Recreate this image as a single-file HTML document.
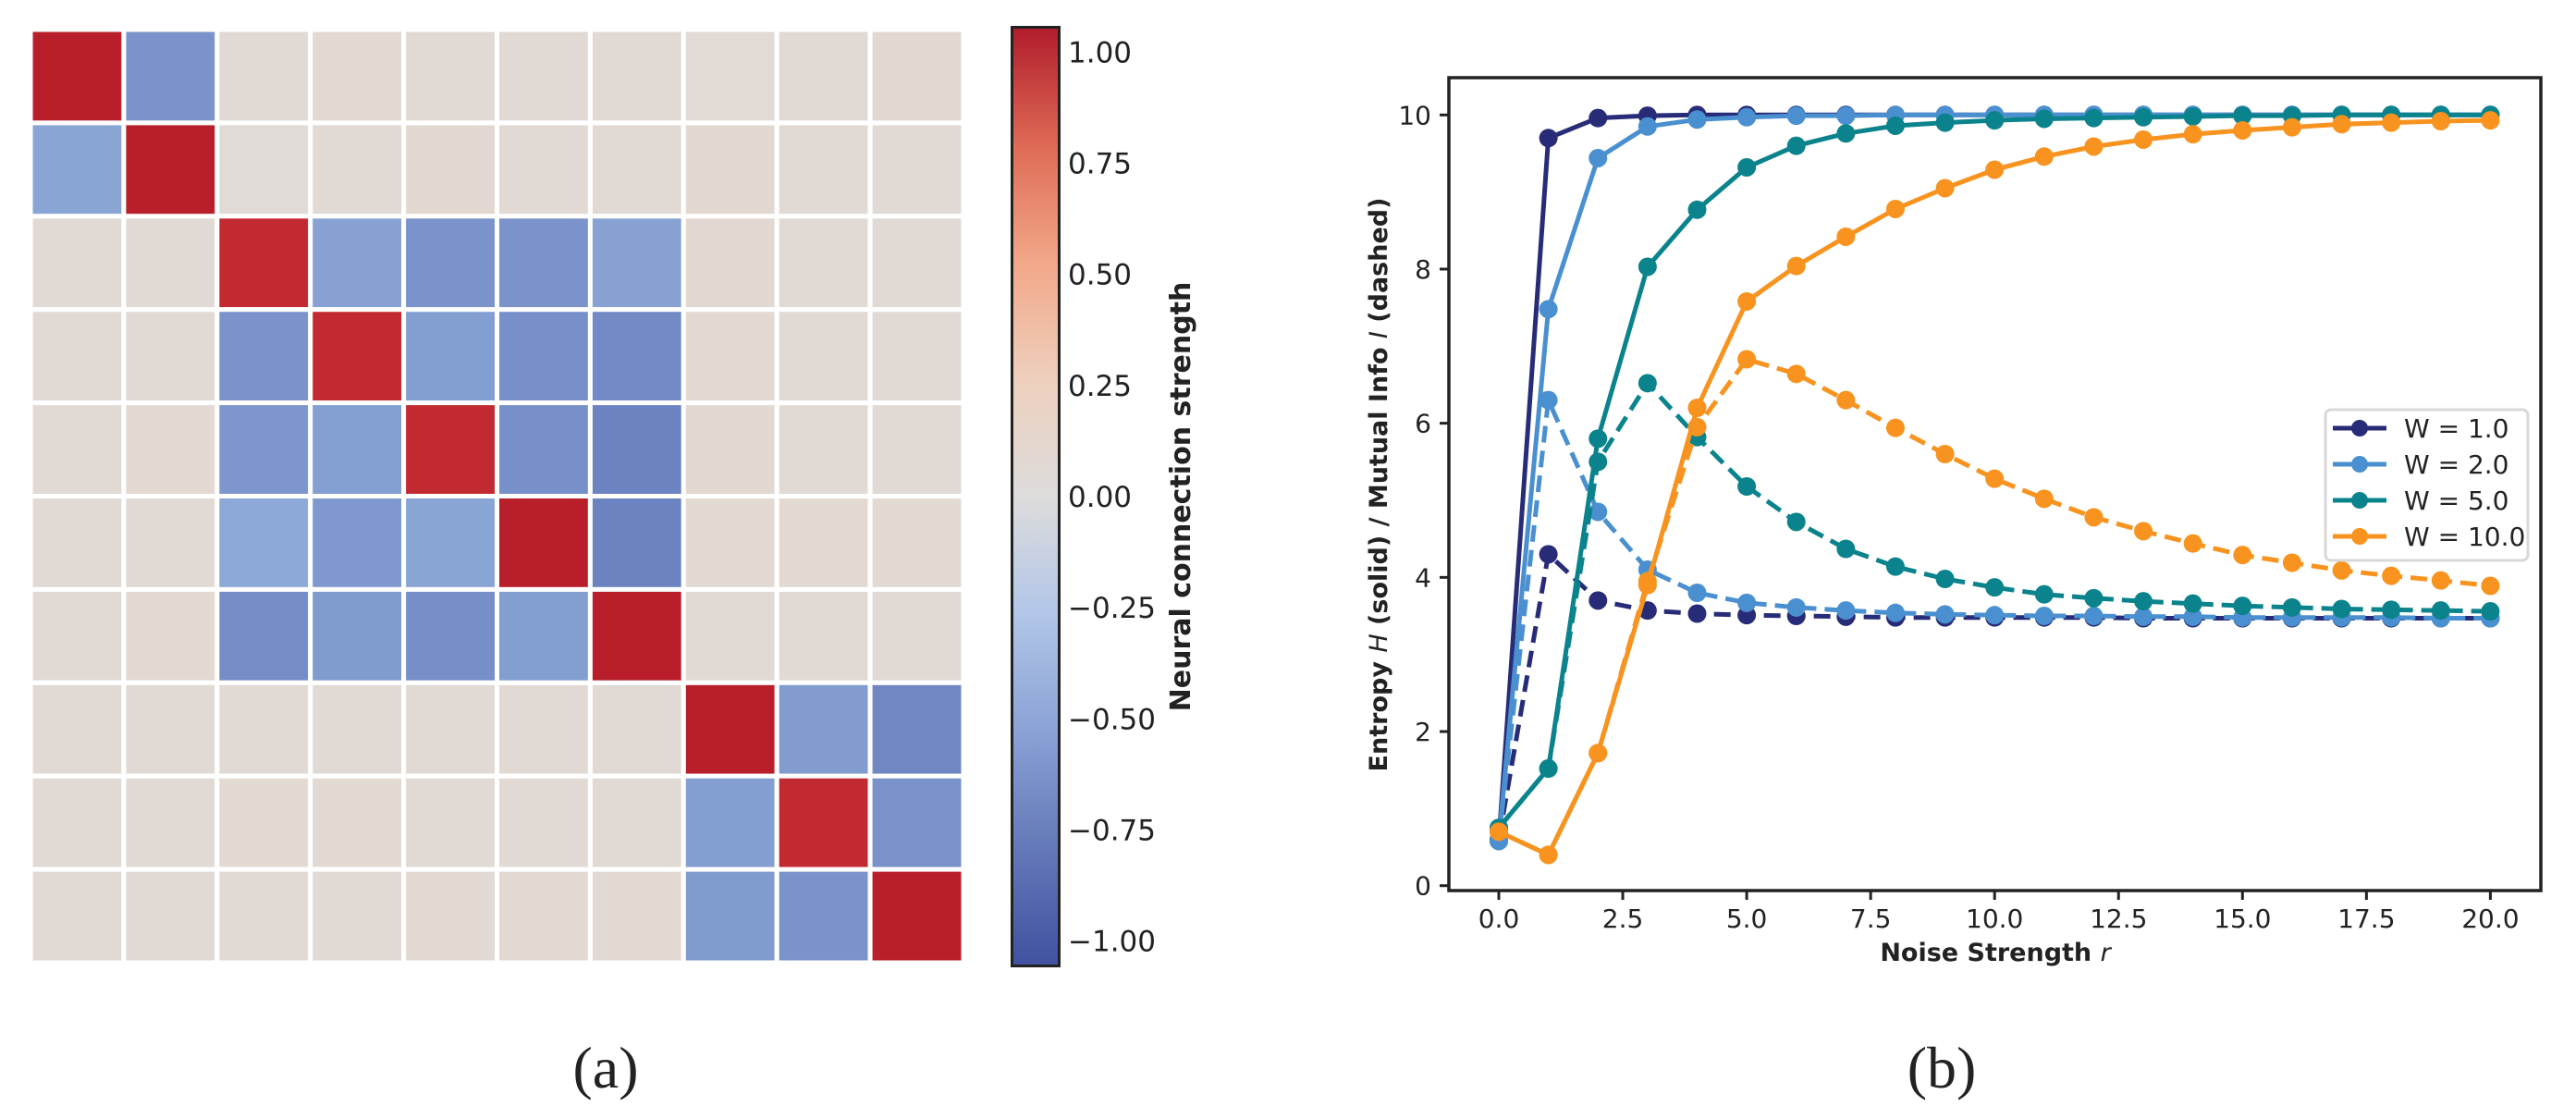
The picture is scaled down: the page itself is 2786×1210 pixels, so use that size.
<!DOCTYPE html>
<html><head><meta charset="utf-8"><style>
html,body{margin:0;padding:0;background:#fff;}
svg{display:block;}
text{font-family:"DejaVu Sans","Liberation Sans",sans-serif;fill:#222;}
</style></head><body>
<svg id="fig" width="2786" height="1210" viewBox="0 0 2786 1210" xmlns="http://www.w3.org/2000/svg">
<defs>
<linearGradient id="cbgrad" x1="0" y1="1" x2="0" y2="0">
<stop offset="0" stop-color="#4152a0"/><stop offset="0.125" stop-color="#6378b8"/><stop offset="0.25" stop-color="#8aa2d6"/><stop offset="0.375" stop-color="#b2c6e8"/><stop offset="0.5" stop-color="#dddcdc"/><stop offset="0.625" stop-color="#eecfbd"/><stop offset="0.75" stop-color="#f2a788"/><stop offset="0.875" stop-color="#de6a55"/><stop offset="1" stop-color="#b01c2c"/>
</linearGradient>
</defs>
<g id="heat"></g>
<g id="cb"></g>
<g id="plot"></g>
<text x="655" y="1176" text-anchor="middle" font-size="64" style="font-family:'Liberation Serif',serif">(a)</text>
<text x="2100" y="1176" text-anchor="middle" font-size="64" style="font-family:'Liberation Serif',serif">(b)</text>
</svg>
<script>
const matrix = [
[1.0,-0.62,0.03,0.05,0.03,0.03,0.03,0.02,0.03,0.06],
[-0.5,1.0,0.01,0.03,0.06,0.03,0.03,0.06,0.03,0.03],
[0.03,0.03,0.95,-0.52,-0.62,-0.62,-0.52,0.06,0.03,0.03],
[0.03,0.03,-0.62,0.95,-0.55,-0.64,-0.68,0.05,0.03,0.03],
[0.03,0.05,-0.6,-0.54,0.95,-0.64,-0.73,0.06,0.03,0.03],
[0.03,0.03,-0.48,-0.58,-0.5,1.0,-0.73,0.05,0.05,0.05],
[0.03,0.05,-0.66,-0.57,-0.65,-0.55,1.0,0.03,0.03,0.03],
[0.03,0.03,0.03,0.03,0.03,0.03,0.03,1.0,-0.56,-0.7],
[0.03,0.03,0.05,0.05,0.03,0.03,0.03,-0.55,0.95,-0.63],
[0.03,0.03,0.03,0.03,0.05,0.05,0.05,-0.57,-0.62,1.0]
];
const cbTicks = [1.0,0.75,0.5,0.25,0.0,-0.25,-0.5,-0.75,-1.0];
const rValues = [0,1,2,3,4,5,6,7,8,9,10,11,12,13,14,15,16,17,18,19,20];
const H_w1 = [0.58,9.7,9.96,9.99,10,10,10,10,10,10,10,10,10,10,10,10,10,10,10,10,10];
const H_w2 = [0.58,7.48,9.44,9.85,9.94,9.97,9.99,9.99,10,10,10,10,10,10,10,10,10,10,10,10,10];
const H_w5 = [0.75,1.52,5.8,8.03,8.77,9.32,9.6,9.76,9.86,9.9,9.93,9.95,9.96,9.97,9.98,9.99,9.99,10,10,10,10];
const H_w10 = [0.7,0.4,1.72,3.9,6.2,7.58,8.04,8.42,8.78,9.05,9.29,9.46,9.59,9.68,9.75,9.8,9.84,9.88,9.9,9.92,9.93];
const I_w1 = [0.6,4.3,3.7,3.57,3.53,3.51,3.5,3.49,3.48,3.48,3.48,3.48,3.48,3.47,3.47,3.47,3.47,3.47,3.47,3.47,3.47];
const I_w2 = [0.6,6.3,4.85,4.1,3.8,3.67,3.61,3.57,3.54,3.52,3.51,3.5,3.5,3.49,3.49,3.48,3.48,3.48,3.48,3.47,3.47];
const I_w5 = [0.75,1.52,5.5,6.52,5.82,5.18,4.72,4.37,4.14,3.98,3.87,3.78,3.73,3.69,3.66,3.63,3.61,3.59,3.58,3.57,3.56];
const I_w10 = [0.7,0.4,1.72,3.95,5.95,6.83,6.64,6.3,5.94,5.6,5.28,5.02,4.78,4.6,4.44,4.29,4.19,4.09,4.02,3.96,3.89];
const seriesLabels = ["W = 1.0","W = 2.0","W = 5.0","W = 10.0"];
const xTicks = [0,2.5,5,7.5,10,12.5,15,17.5,20];
const yTicks = [0,2,4,6,8,10];

const NS="http://www.w3.org/2000/svg";
function mk(tag,attrs,parent){const e=document.createElementNS(NS,tag);for(const k in attrs)e.setAttribute(k,attrs[k]);parent.appendChild(e);return e;}
const stops=[[-1,[65,82,160]],[-0.75,[106,128,192]],[-0.5,[137,165,212]],[-0.25,[178,198,230]],[0,[224,219,215]],[0.1,[228,214,206]],[0.25,[238,205,188]],[0.5,[242,167,136]],[0.75,[222,106,85]],[0.95,[193,42,48]],[1,[185,31,43]]];
function cmap(v){v=Math.max(-1,Math.min(1,v));for(let i=0;i<stops.length-1;i++){const a=stops[i],b=stops[i+1];if(v<=b[0]){const t=(v-a[0])/(b[0]-a[0]);const c=a[1].map((x,j)=>Math.round(x+(b[1][j]-x)*t));return `rgb(${c})`;}}return 'rgb(185,31,43)';}

// heatmap
const heat=document.getElementById('heat');
const hx0=33,hy0=32,hw=1009/10;
matrix.forEach((row,i)=>row.forEach((v,j)=>{
 const r=mk('rect',{x:hx0+j*hw,y:hy0+i*hw,width:hw,height:hw,fill:cmap(v),stroke:'#fff','stroke-width':5},heat);
 
 
}));

// colorbar
const cb=document.getElementById('cb');
const cbTop=29.5,cbBot=1044.5,cbMax=1.056,cbMin=-1.056;
const cbY=v=>cbTop+(cbMax-v)/(cbMax-cbMin)*(cbBot-cbTop);
const cbr=mk('rect',{x:1094.5,y:cbTop,width:51,height:cbBot-cbTop,fill:'url(#cbgrad)',stroke:'#222','stroke-width':3},cb);


cbTicks.forEach(v=>{
 const t=mk('text',{x:1155,y:cbY(v)+11,'font-size':31},cb);
 t.textContent=(v<0?'\u2212':'')+Math.abs(v).toFixed(2);
 
 
});
const cbl=mk('text',{x:0,y:0,'font-size':30,'font-weight':'bold','text-anchor':'middle',transform:'translate(1287,537) rotate(-90)'},cb);
cbl.textContent='Neural connection strength';



// line chart
const P=document.getElementById('plot');
const L=1567,R=2748,T=84,B=963;
const X=v=>1621+v*53.62;
const Y=v=>957.7-v*83.34;
const colors=['#282c78','#4a90d0','#0b838c','#f7931e'];
const Hs=[H_w1,H_w2,H_w5,H_w10], Is=[I_w1,I_w2,I_w5,I_w10];
function drawSeries(vals,col,dashed,name){
 const g=mk('g',{},P);
 
 
 const pts=vals.map((v,i)=>X(rValues[i]).toFixed(1)+','+Y(v).toFixed(1)).join(' ');
 const pl=mk('polyline',{points:pts,fill:'none',stroke:col,'stroke-width':5,'stroke-linejoin':'round','stroke-dasharray':dashed?'18,9':'none'},g);
 
 
 vals.forEach((v,i)=>{
  const c=mk('circle',{cx:X(rValues[i]),cy:Y(v),r:10,fill:col},g);
  
  
 });
}
for(let k=0;k<4;k++) drawSeries(Is[k],colors[k],true,'mutual-info-w'+k);
for(let k=0;k<4;k++) drawSeries(Hs[k],colors[k],false,'entropy-w'+k);
const frame=mk('rect',{x:L,y:T,width:R-L,height:B-T,fill:'none',stroke:'#222','stroke-width':3.5},P);


xTicks.forEach(v=>{
 mk('line',{x1:X(v),x2:X(v),y1:B,y2:B+10,stroke:'#222','stroke-width':3},P);
 const t=mk('text',{x:X(v),y:1003,'font-size':28,'text-anchor':'middle'},P);
 t.textContent=v.toFixed(1);
 
 
});
yTicks.forEach(v=>{
 mk('line',{x1:L-10,x2:L,y1:Y(v),y2:Y(v),stroke:'#222','stroke-width':3},P);
 const t=mk('text',{x:1548,y:Y(v)+10,'font-size':28,'text-anchor':'end'},P);
 t.textContent=String(v);
 
 
});
const xl=mk('text',{x:2158,y:1039,'font-size':27,'font-weight':'bold','text-anchor':'middle'},P);
xl.innerHTML='Noise Strength <tspan font-style="italic" font-weight="normal">r</tspan>';


const yl=mk('text',{x:0,y:0,'font-size':27,'font-weight':'bold','text-anchor':'middle',transform:'translate(1500,524) rotate(-90)'},P);
yl.innerHTML='Entropy <tspan font-style="italic" font-weight="normal">H</tspan> (solid) / Mutual Info <tspan font-style="italic" font-weight="normal">I</tspan> (dashed)';


// legend
const lg=mk('g',{},P);


mk('rect',{x:2515,y:443,width:219,height:163,rx:6,fill:'#fff',stroke:'#d8d8d8','stroke-width':3},lg);
seriesLabels.forEach((s,k)=>{
 const yy=463+k*39;
 const e=mk('g',{},lg);
 
 
 mk('line',{x1:2523,x2:2581,y1:yy,y2:yy,stroke:colors[k],'stroke-width':5},e);
 mk('circle',{cx:2552,cy:yy,r:9,fill:colors[k]},e);
 const t=mk('text',{x:2600,y:yy+10,'font-size':28},e);
 t.textContent=s;
});
</script>
</body></html>
